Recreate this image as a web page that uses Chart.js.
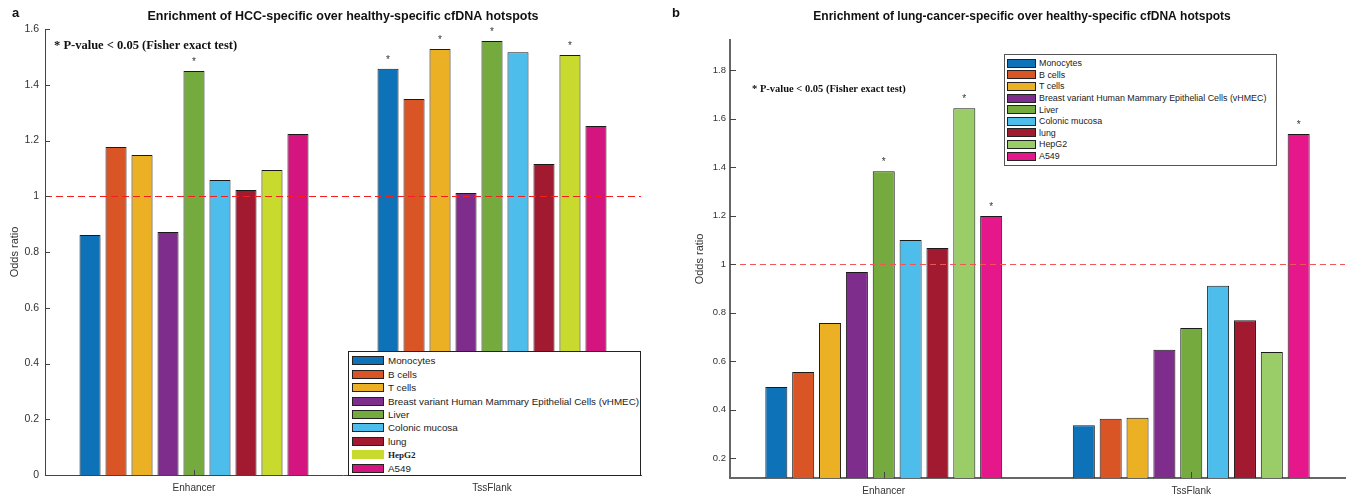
<!DOCTYPE html>
<html>
<head>
<meta charset="utf-8">
<script src="https://cdn.jsdelivr.net/npm/chart.js@4.4.1/dist/chart.umd.min.js"></script>
<style>
  body { margin: 0; background: #fff; width: 1353px; height: 497px; position: relative; overflow: hidden;
         font-family: 'Liberation Sans', Arial, sans-serif; }
  canvas { position: absolute; top: 0; }
  #chartA { left: 0; }
  #chartB { left: 664px; }
  .legend { position: absolute; background: #fff; border: 1px solid #222; box-sizing: border-box; color: #222; }
  .legend .row { display: flex; align-items: center; white-space: nowrap; }
  .legend .sw { box-sizing: border-box; border: 1px solid #222; flex: none; }
  #legendA { left: 348px; top: 351px; width: 293px; height: 125px; padding-top: 2px; font-size: 9.8px; }
  #legendA .row { height: 13.46px; }
  #legendA .sw { width: 32px; height: 9px; margin: 0 4px 0 3px; }
  #legendB { left: 1004px; top: 54px; width: 273px; height: 112px; padding-top: 2.5px; font-size: 8.9px; border-color: #555; }
  #legendB .row { height: 11.6px; }
  #legendB .sw { width: 29px; height: 9px; margin: 0 3px 0 2px; }
</style>
</head>
<body>
<canvas id="chartA" width="676" height="497"></canvas>
<canvas id="chartB" width="689" height="497"></canvas>
<div class="legend" id="legendA"></div>
<div class="legend" id="legendB"></div>
<script>
const CELL_TYPES = ['Monocytes', 'B cells', 'T cells', 'Breast variant Human Mammary Epithelial Cells (vHMEC)',
  'Liver', 'Colonic mucosa', 'lung', 'HepG2', 'A549'];
const REGIONS = ['Enhancer', 'TssFlank'];

// panel a: HCC-specific vs healthy-specific hotspots
const HCC_ENHANCER = [0.861, 1.177, 1.148, 0.872, 1.449, 1.058, 1.022, 1.094, 1.223];
const HCC_TSSFLANK = [1.457, 1.349, 1.528, 1.012, 1.557, 1.517, 1.116, 1.507, 1.252];
const HCC_SIG_ENHANCER = ['Liver'];
const HCC_SIG_TSSFLANK = ['Monocytes', 'T cells', 'Liver', 'HepG2'];
const HCC_TICKS = [0, 0.2, 0.4, 0.6, 0.8, 1, 1.2, 1.4, 1.6];

// panel b: lung-cancer-specific vs healthy-specific hotspots
const LUNG_ENHANCER = [0.493, 0.555, 0.757, 0.967, 1.383, 1.099, 1.066, 1.643, 1.198];
const LUNG_TSSFLANK = [0.335, 0.362, 0.366, 0.646, 0.736, 0.910, 0.768, 0.637, 1.536];
const LUNG_SIG_ENHANCER = ['Liver', 'HepG2', 'A549'];
const LUNG_SIG_TSSFLANK = ['A549'];
const LUNG_TICKS = [0.2, 0.4, 0.6, 0.8, 1, 1.2, 1.4, 1.6, 1.8];

const COLORS_A = ['#0E72B8', '#DA5525', '#EBB024', '#7E2D8C', '#75AA3F', '#4DBEEB', '#A21A30', '#C8DA2E', '#D4147F'];
const COLORS_B = ['#0E72B8', '#DA5525', '#EBB024', '#7E2D8C', '#75AA3F', '#4DBEEB', '#A21A30', '#9ACD68', '#E6168B'];

const NOTE = '* P-value < 0.05 (Fisher exact test)';

Chart.defaults.font.family = "'Liberation Sans', Arial, sans-serif";
Chart.defaults.animation = false;

// titles, notes, reference line, significance stars and inward tick marks
const decor = {
  id: 'decor',
  afterDatasetsDraw(chart, args, o) {
    const ctx = chart.ctx, ca = chart.chartArea;
    const xs = chart.scales.x, ys = chart.scales.y;
    ctx.save();

    // odds ratio = 1
    const y1 = Math.round(ys.getPixelForValue(1)) + 0.5;
    ctx.strokeStyle = o.refColor; ctx.lineWidth = 1.2; ctx.setLineDash(o.refDash);
    ctx.beginPath(); ctx.moveTo(ca.left, y1); ctx.lineTo(ca.right, y1); ctx.stroke();
    ctx.setLineDash([]);

    // ticks point into the plot
    ctx.strokeStyle = o.tickColor; ctx.lineWidth = 1;
    ctx.beginPath();
    ys.ticks.forEach(t => {
      const py = Math.round(ys.getPixelForValue(t.value)) + 0.5;
      ctx.moveTo(ca.left, py); ctx.lineTo(ca.left + o.tickLen, py);
    });
    xs.ticks.forEach((t, i) => {
      const px = Math.round(xs.getPixelForTick(i)) + 0.5;
      ctx.moveTo(px, ca.bottom); ctx.lineTo(px, ca.bottom - o.tickLen);
    });
    ctx.stroke();

    // stars over significant bars
    ctx.fillStyle = '#333'; ctx.font = '10px "Liberation Sans"';
    ctx.textAlign = 'center'; ctx.textBaseline = 'middle';
    o.sig.forEach((names, ci) => {
      names.forEach(n => {
        const bar = chart.getDatasetMeta(CELL_TYPES.indexOf(n)).data[ci];
        ctx.fillText('*', bar.x, bar.y - 9);
      });
    });

    // panel letter and heading
    ctx.fillStyle = '#111'; ctx.textAlign = 'left';
    ctx.font = 'bold 13px "Liberation Sans"';
    ctx.fillText(o.letter, o.letterX, 13);
    ctx.textAlign = 'center';
    ctx.font = 'bold ' + o.titleSize + 'px "Liberation Sans"';
    ctx.fillText(o.title, o.titleX, 17);

    ctx.textAlign = 'left';
    ctx.font = 'bold ' + o.noteSize + 'px "Liberation Serif"';
    ctx.fillText(NOTE, o.noteX, o.noteY);
    ctx.restore();
  }
};

function makeChart(id, enh, tss, colors, ticks, range, layout, deco) {
  return new Chart(document.getElementById(id), {
    type: 'bar',
    data: {
      labels: REGIONS,
      datasets: CELL_TYPES.map((name, i) => ({
        label: name,
        data: [enh[i], tss[i]],
        backgroundColor: colors[i],
        borderColor: '#1a1a1a',
        borderWidth: 1,
        categoryPercentage: layout.cat,
        barPercentage: layout.bar
      }))
    },
    options: {
      responsive: false,
      layout: { padding: layout.padding },
      plugins: { legend: { display: false }, tooltip: { enabled: false }, decor: deco },
      scales: {
        x: {
          grid: { display: false, drawTicks: false },
          border: { display: true, color: layout.axisColor, width: layout.axisWidth },
          ticks: { color: '#333', font: { size: 10 }, padding: 7 },
          afterFit: s => { s.height = layout.xHeight; }
        },
        y: {
          min: range[0], max: range[1],
          grid: { display: false, drawTicks: false },
          border: { display: true, color: layout.axisColor, width: layout.axisWidth },
          afterBuildTicks: s => { s.ticks = ticks.map(v => ({ value: v })); },
          ticks: { color: '#333', font: { size: layout.tickSize }, padding: layout.tickPad, callback: v => String(+v.toFixed(1)) },
          title: { display: true, text: 'Odds ratio', color: '#333', font: { size: 11 }, padding: { top: layout.titlePad, bottom: 0 } },
          afterFit: s => { s.width = layout.yWidth; }
        }
      }
    },
    plugins: [decor]
  });
}

const chartA = makeChart('chartA', HCC_ENHANCER, HCC_TSSFLANK, COLORS_A, HCC_TICKS, [0, 1.6],
  { cat: 0.785, bar: 0.81, padding: { top: 29, right: 35, bottom: 0, left: 0 }, xHeight: 22, yWidth: 45,
    axisColor: '#444', axisWidth: 1, tickSize: 10.5, tickPad: 6, titlePad: 8 },
  { letter: 'a', letterX: 12, title: 'Enrichment of HCC-specific over healthy-specific cfDNA hotspots', titleX: 343, titleSize: 12.5,
    noteX: 54, noteY: 46, noteSize: 12.5, sig: [HCC_SIG_ENHANCER, HCC_SIG_TSSFLANK],
    refColor: '#F41E1E', refDash: [7, 4], tickColor: '#444', tickLen: 5 });

const chartB = makeChart('chartB', LUNG_ENHANCER, LUNG_TSSFLANK, COLORS_B, LUNG_TICKS, [0.1175, 1.924],
  { cat: 0.786, bar: 0.82, padding: { top: 40, right: 8, bottom: 0, left: 0 }, xHeight: 19, yWidth: 66,
    axisColor: '#666', axisWidth: 2, tickSize: 9.5, tickPad: 4, titlePad: 29 },
  { letter: 'b', letterX: 8, title: 'Enrichment of lung-cancer-specific over healthy-specific cfDNA hotspots', titleX: 358, titleSize: 12,
    noteX: 88, noteY: 89, noteSize: 10.5, sig: [LUNG_SIG_ENHANCER, LUNG_SIG_TSSFLANK],
    refColor: '#F25555', refDash: [6, 4], tickColor: '#444', tickLen: 6 });

// html legends built from each chart's datasets
function buildLegend(chart, el, serifLabels) {
  el.innerHTML = chart.data.datasets.map(ds => {
    const serif = serifLabels.includes(ds.label);
    const sw = `<span class="sw" style="background:${ds.backgroundColor};${serif ? 'border:none' : ''}"></span>`;
    const txt = serif ? `<b style="font-family:'Liberation Serif';font-size:9px">${ds.label}</b>` : ds.label;
    return `<div class="row">${sw}${txt}</div>`;
  }).join('');
}
buildLegend(chartA, document.getElementById('legendA'), ['HepG2']);
buildLegend(chartB, document.getElementById('legendB'), []);
</script>
</body>
</html>
